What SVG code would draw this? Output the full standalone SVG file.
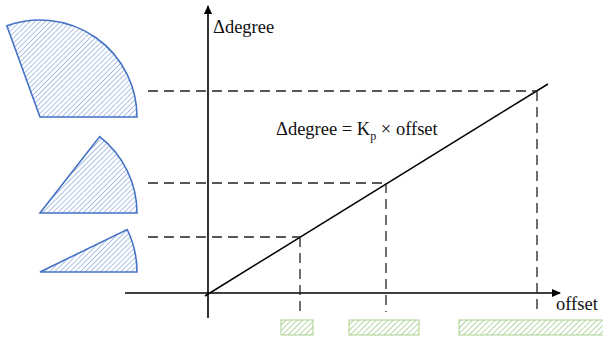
<svg xmlns="http://www.w3.org/2000/svg" width="603" height="338" viewBox="0 0 603 338">
<style>
.sector{fill:url(#hb);stroke:#4472C4;stroke-width:1.6}
.bar{fill:url(#hg);stroke:#A9D18E;stroke-width:1}
.axis{stroke:#000;stroke-width:1.6;fill:none}
.dash{stroke:#222;stroke-width:1.3;stroke-dasharray:10,6;fill:none}
.t{font-family:"Liberation Serif","Times New Roman",serif;font-size:18.5px;fill:#111}
</style>
<defs>
<pattern id="hb" width="3.6" height="3.6" patternUnits="userSpaceOnUse" patternTransform="rotate(45)">
<rect width="3.6" height="3.6" fill="#fff"/>
<line x1="0" y1="0" x2="0" y2="3.6" stroke="#5B85CF" stroke-width="1"/>
</pattern>
<pattern id="hg" width="4" height="4" patternUnits="userSpaceOnUse" patternTransform="rotate(45)">
<rect width="4" height="4" fill="#fff"/>
<line x1="0" y1="0" x2="0" y2="4" stroke="#70AD47" stroke-width="1"/>
</pattern>
<marker id="ah" markerWidth="10" markerHeight="10" refX="8" refY="5" orient="auto" markerUnits="userSpaceOnUse">
<path d="M0,1 L9,5 L0,9 Z" fill="#000"/>
</marker>
</defs>
<g id="sector-large"><path class="sector" d="M40,117 L137,117 A97,97 0 0 0 6.8,25.8 Z"/></g>
<g id="sector-medium"><path class="sector" d="M40,213 L137,213 A97,97 0 0 0 99.7,136.6 Z"/></g>
<g id="sector-small"><path class="sector" d="M40,272 L137,272 A97,97 0 0 0 127.2,229.5 Z"/></g>
<g id="bar-1"><rect class="bar" x="281" y="320" width="32" height="15"/></g>
<g id="bar-2"><rect class="bar" x="349" y="320" width="70" height="15"/></g>
<g id="bar-3"><rect class="bar" x="459" y="320" width="146" height="15"/></g>
<g id="connectors">
<line class="axis" x1="208" y1="318" x2="208" y2="6" marker-end="url(#ah)"/>
<line class="axis" x1="125" y1="293" x2="560" y2="293" marker-end="url(#ah)"/>
<line x1="205" y1="296" x2="548" y2="84" stroke="#000" stroke-width="1.5"/>
<path class="dash" d="M148,91 H537 M148,183 H386 M148,237 H300"/>
<path class="dash" d="M537,91 V312 M386,183 V312 M300,237 V312"/>
</g>
<g id="labels">
<text class="t" x="213" y="33">Δdegree</text>
<text class="t" x="276" y="135">Δdegree = K<tspan font-size="12" dy="5">p</tspan><tspan dy="-5"> × offset</tspan></text>
<text class="t" x="556" y="310">offset</text>
</g>
</svg>
